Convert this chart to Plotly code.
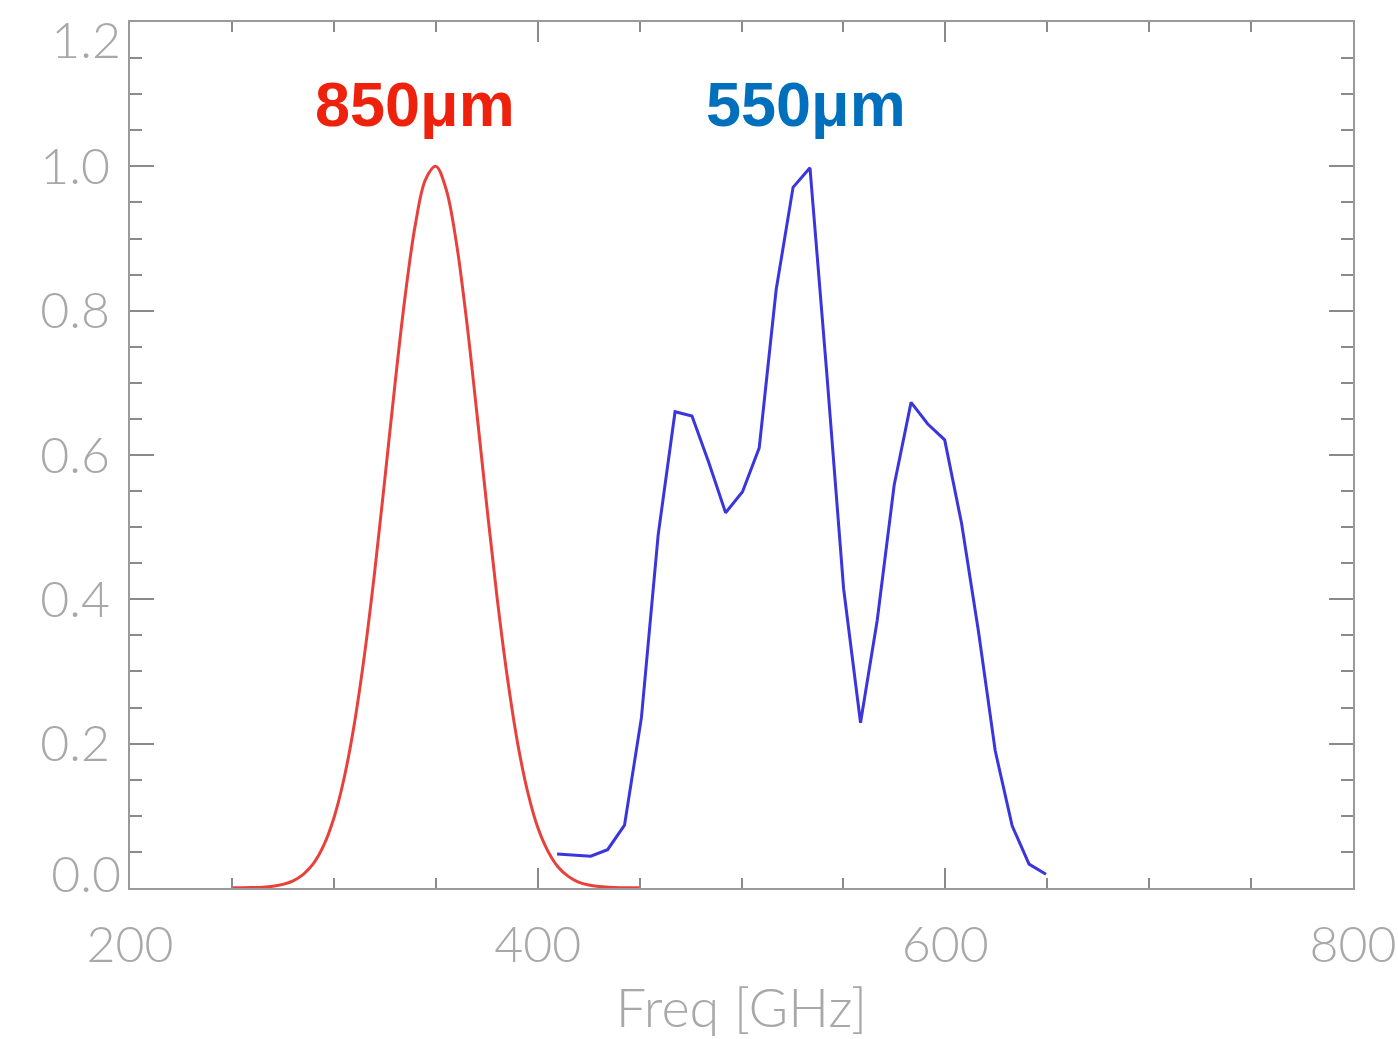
import plotly.graph_objects as go

# 850 µm band (red)
freq_850 = [250, 255, 260, 265, 270, 275, 280, 285, 290, 295, 300, 305, 310, 315, 320,
            325, 330, 335, 340, 345, 350, 355, 360, 365, 370, 375, 380, 385, 390, 395,
            400, 405, 410, 415, 420, 425, 430, 435, 440, 445, 450]
resp_850 = [0.0001, 0.0002, 0.0005, 0.0011, 0.0024, 0.0049, 0.0099, 0.0188, 0.034, 0.059,
            0.097, 0.152, 0.227, 0.323, 0.438, 0.567, 0.699, 0.821, 0.920, 0.982, 1.0,
            0.969, 0.896, 0.789, 0.662, 0.530, 0.404, 0.294, 0.203, 0.134, 0.084, 0.051,
            0.029, 0.016, 0.008, 0.004, 0.002, 0.001, 0.0004, 0.0002, 0.0001]

# 550 µm band (blue)
freq_550 = [409.5, 417.8, 426.0, 434.3, 442.6, 450.9, 459.1, 467.4, 475.7, 483.9,
            492.2, 500.5, 508.7, 517.0, 525.3, 533.6, 541.8, 550.1, 558.4, 566.6,
            574.9, 583.2, 591.4, 599.7, 608.0, 616.3, 624.5, 632.8, 641.1, 649.4]
resp_550 = [0.047, 0.045, 0.044, 0.053, 0.087, 0.236, 0.489, 0.660, 0.654, 0.590,
            0.520, 0.549, 0.610, 0.829, 0.971, 0.998, 0.715, 0.415, 0.229, 0.371,
            0.558, 0.673, 0.643, 0.621, 0.505, 0.355, 0.190, 0.086, 0.033, 0.019]

x_ticks = [200, 400, 600, 800]
y_ticks = [0.0, 0.2, 0.4, 0.6, 0.8, 1.0, 1.2]
y_tick_text_mid = ["", "0.2", "0.4", "0.6", "0.8", "1.0", ""]
y_bottom_label = ("0.0", 0.0)
y_top_label = ("1.2", 1.2)
labels = ["850μm", "550μm"]
label_colors = ["#EE220C", "#0070BC"]

Y_RANGE = [-0.0001, 1.2001]

fig = go.Figure()
fig.add_trace(go.Scatter(x=freq_850, y=resp_850, mode="lines", line=dict(color="#E8413B", width=3, shape="spline"), showlegend=False))
fig.add_trace(go.Scatter(x=freq_550, y=resp_550, mode="lines", line=dict(color="#3A36DC", width=3), showlegend=False))
# empty helper traces so the label-only axes are drawn
fig.add_trace(go.Scatter(x=[], y=[], yaxis="y2", showlegend=False, hoverinfo="skip"))
fig.add_trace(go.Scatter(x=[], y=[], yaxis="y3", showlegend=False, hoverinfo="skip"))

axis_font = dict(family="Lato", size=50, color="#A8A8A8", weight=300)
title_font = dict(family="Lato", size=54, color="#A8A8A8", weight=300)

fig.update_xaxes(range=[199.95, 800.05], tickvals=x_ticks, ticks="inside", ticklen=20, tickwidth=1.5,
                 tickcolor="#8A8A8A", showline=True, linecolor="#9A9A9A", linewidth=2,
                 mirror="ticks", showgrid=False, zeroline=False, tickfont=axis_font,
                 ticklabelstandoff=12, automargin=False, ticklabeloverflow="allow",
                 minor=dict(dtick=50, ticks="inside", ticklen=10, tickwidth=1.5, tickcolor="#8A8A8A", showgrid=False),
                 title=dict(text="Freq [GHz]", font=title_font, standoff=30))

common_label_axis = dict(range=Y_RANGE, overlaying="y", anchor="x", side="left", showline=False,
                         ticks="", showgrid=False, zeroline=False, tickfont=axis_font,
                         ticklabelstandoff=8, automargin=False, ticklabeloverflow="allow")

fig.update_layout(
    yaxis=dict(range=Y_RANGE, tickvals=y_ticks, ticktext=y_tick_text_mid, ticks="inside", ticklen=24,
               tickwidth=1.5, tickcolor="#8A8A8A", showline=True, linecolor="#9A9A9A", linewidth=2,
               mirror="ticks", showgrid=False, zeroline=False, tickfont=axis_font,
               ticklabelstandoff=8, automargin=False, ticklabeloverflow="allow",
               minor=dict(dtick=0.05, ticks="inside", ticklen=12, tickwidth=1.5, tickcolor="#8A8A8A", showgrid=False)),
    yaxis2=dict(tickvals=[y_bottom_label[1]], ticktext=[y_bottom_label[0]], ticklabelshift=-13, **common_label_axis),
    yaxis3=dict(tickvals=[y_top_label[1]], ticktext=[y_top_label[0]], ticklabelshift=18, **common_label_axis),
)

label_x = [0.1496, 0.4697]
for txt, col, lx in zip(labels, label_colors, label_x):
    fig.add_annotation(text=f"<b>{txt}</b>", xref="paper", yref="paper", x=lx, y=0.905,
                       xanchor="left", yanchor="middle", showarrow=False,
                       font=dict(family="Liberation Sans", size=63, color=col))

fig.update_layout(width=1398, height=1039, margin=dict(l=130, r=45, t=22, b=151, autoexpand=False),
                  plot_bgcolor="white", paper_bgcolor="white")

fig.write_html("out.html")
